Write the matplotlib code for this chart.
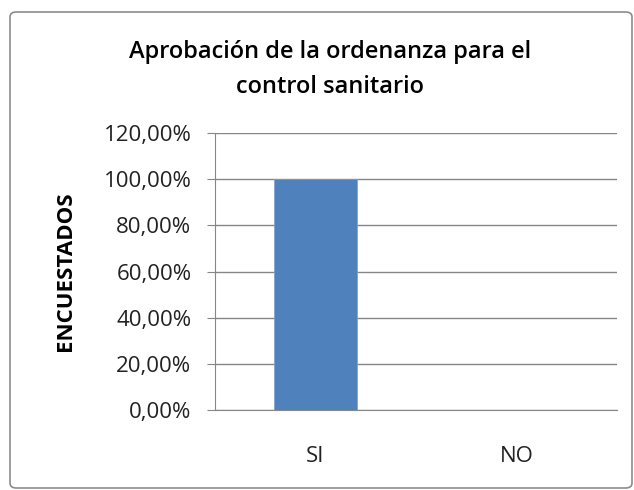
import matplotlib.pyplot as plt
from matplotlib.patches import FancyBboxPatch
from matplotlib.ticker import FuncFormatter

categories = ['SI', 'NO']
values = [1.0, 0.0]
y_ticks = [0, 0.2, 0.4, 0.6, 0.8, 1.0, 1.2]

title = 'Aprobación de la ordenanza para el\ncontrol sanitario'
ylabel = 'ENCUESTADOS'

plt.rcParams['font.family'] = ['Open Sans', 'DejaVu Sans']

fig = plt.figure(figsize=(6.34, 4.9), dpi=100)
fig.patch.set_facecolor('white')

# chart border
border = FancyBboxPatch((10 / 634, 2 / 490), 622 / 634, 476 / 490,
                        boxstyle='round,pad=0,rounding_size=0.01',
                        transform=fig.transFigure, fill=False,
                        edgecolor='#8c8c8c', linewidth=1.2)
fig.patches.append(border)

ax = fig.add_axes([215 / 634, 80 / 490, 402 / 634, 277 / 490])
x = range(len(categories))
ax.bar(x, values, width=0.41, color='#4F81BD', edgecolor='#7aa0d0', linewidth=0.5, zorder=3)

ax.set_xlim(-0.5, 1.5)
ax.set_ylim(0, 1.2)
ax.set_yticks(y_ticks)
ax.yaxis.set_major_formatter(FuncFormatter(lambda v, p: f'{v * 100:.2f}%'.replace('.', ',')))
ax.set_xticks(list(x))
ax.set_xticklabels(categories)

ax.grid(axis='y', color='#868686', linewidth=1.0, zorder=0)
for s in ['top', 'right']:
    ax.spines[s].set_visible(False)
ax.spines['left'].set_color('#868686')
ax.spines['bottom'].set_color('#868686')
ax.tick_params(axis='y', length=6, color='#868686', labelsize=16, pad=11, labelcolor='#222222')
ax.tick_params(axis='x', length=0, labelsize=16, pad=26, labelcolor='#222222')

ax.set_ylabel(ylabel, fontsize=16, fontweight='bold', labelpad=20)

fig.text(0.52, 0.858, title, ha='center', va='center', fontsize=17,
         fontweight='semibold', linespacing=1.62)

fig.savefig('out.png', dpi=100)
